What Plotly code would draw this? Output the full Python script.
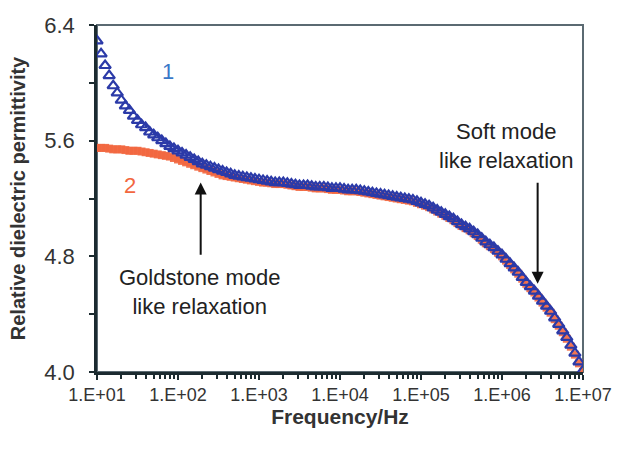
import plotly.graph_objects as go

# log10(frequency / Hz), 20 readings per decade
log_freq = [1.0 + 0.05 * i for i in range(121)]

eps_1 = [6.29, 6.20, 6.12, 6.05, 5.98, 5.93, 5.88, 5.84, 5.81, 5.77,
         5.74, 5.71, 5.69, 5.66, 5.64, 5.62, 5.60, 5.58, 5.56, 5.545,
         5.53, 5.515, 5.50, 5.485, 5.47, 5.455, 5.44, 5.43, 5.42, 5.41,
         5.40, 5.39, 5.38, 5.37, 5.36, 5.355, 5.35, 5.345, 5.34, 5.335,
         5.33, 5.325, 5.32, 5.315, 5.31, 5.31, 5.31, 5.305, 5.30, 5.295,
         5.29, 5.29, 5.29, 5.285, 5.28, 5.28, 5.28, 5.275, 5.27, 5.27,
         5.27, 5.265, 5.26, 5.26, 5.26, 5.255, 5.25, 5.245, 5.24, 5.235,
         5.23, 5.225, 5.22, 5.215, 5.21, 5.205, 5.20, 5.195, 5.19, 5.18,
         5.17, 5.16, 5.15, 5.135, 5.12, 5.105, 5.09, 5.075, 5.06, 5.04,
         5.02, 5.005, 4.99, 4.97, 4.95, 4.925, 4.90, 4.88, 4.86, 4.835,
         4.81, 4.78, 4.75, 4.72, 4.69, 4.655, 4.62, 4.59, 4.56, 4.525,
         4.49, 4.455, 4.42, 4.375, 4.33, 4.285, 4.24, 4.185, 4.13, 4.07,
         4.01]

eps_2 = [5.55, 5.55, 5.55, 5.545, 5.54, 5.54, 5.54, 5.535, 5.53, 5.53,
         5.53, 5.525, 5.52, 5.515, 5.51, 5.505, 5.50, 5.495, 5.49, 5.48,
         5.47, 5.46, 5.45, 5.44, 5.43, 5.42, 5.41, 5.40, 5.39, 5.38,
         5.37, 5.36, 5.355, 5.35, 5.345, 5.34, 5.335, 5.33, 5.325, 5.32,
         5.315, 5.31, 5.31, 5.305, 5.30, 5.30, 5.30, 5.295, 5.29, 5.285,
         5.28, 5.28, 5.28, 5.275, 5.27, 5.27, 5.27, 5.265, 5.26, 5.26,
         5.26, 5.255, 5.25, 5.25, 5.25, 5.245, 5.24, 5.235, 5.23, 5.225,
         5.22, 5.215, 5.21, 5.205, 5.20, 5.195, 5.19, 5.185, 5.18, 5.17,
         5.16, 5.15, 5.14, 5.125, 5.11, 5.095, 5.08, 5.065, 5.05, 5.03,
         5.01, 4.995, 4.98, 4.96, 4.94, 4.915, 4.89, 4.87, 4.85, 4.825,
         4.80, 4.77, 4.74, 4.71, 4.68, 4.645, 4.61, 4.58, 4.55, 4.515,
         4.48, 4.445, 4.41, 4.365, 4.32, 4.275, 4.23, 4.175, 4.12, 4.06,
         4.00]

x_tick_vals = [1e1, 1e2, 1e3, 1e4, 1e5, 1e6, 1e7]
x_tick_text = ["1.E+01", "1.E+02", "1.E+03", "1.E+04", "1.E+05", "1.E+06", "1.E+07"]
y_tick_vals = [4.0, 4.8, 5.6, 6.4]

n = min(len(log_freq), len(eps_1), len(eps_2))
freq = [10 ** v for v in log_freq[:n]]
minor_x = [k * 10 ** e for e in range(1, 7) for k in range(2, 10)]

FONT = "Liberation Sans, Arial, sans-serif"

fig = go.Figure()
fig.add_trace(go.Scatter(
    x=freq, y=eps_2[:n], mode="markers",
    marker=dict(symbol="square", size=8, color="#f2673f", opacity=0.9,
                line=dict(width=0)),
    showlegend=False))
fig.add_trace(go.Scatter(
    x=freq, y=eps_1[:n], mode="markers",
    marker=dict(symbol="triangle-up-open", size=10, color="#2b3aa8",
                line=dict(width=2.2, color="#2b3aa8")),
    showlegend=False))

font_txt = dict(family=FONT, size=22, color="#222222")

fig.update_layout(
    width=618, height=450,
    margin=dict(l=97, r=35, t=25, b=78, autoexpand=False),
    paper_bgcolor="white", plot_bgcolor="white",
    font=dict(family=FONT, color="#333333"),
    xaxis=dict(
        type="log", range=[1, 7.0], automargin=False,
        tickvals=x_tick_vals, ticktext=x_tick_text,
        tickfont=dict(size=18, color="#333333"),
        ticks="outside", ticklen=5, tickwidth=2, tickcolor="#1c2b30",
        minor=dict(tickvals=minor_x, ticks="outside", ticklen=4,
                   tickwidth=1.5, tickcolor="#1c2b30", showgrid=False),
        showline=True, linewidth=2.5, linecolor="#1c2b30",
        showgrid=False, zeroline=False,
        title=dict(text="<b>Frequency/Hz</b>", font=dict(size=21, color="#333333"),
                   standoff=4),
    ),
    yaxis=dict(
        range=[4.0, 6.4], tickvals=y_tick_vals, tickformat=".1f", automargin=False,
        tickfont=dict(size=22, color="#333333"), ticklabelstandoff=10,
        ticks="outside", ticklen=5, tickwidth=2, tickcolor="#1c2b30",
        minor=dict(dtick=0.4, tick0=4.0, ticks="outside", ticklen=5,
                   tickwidth=1.5, tickcolor="#1c2b30", showgrid=False),
        showline=True, linewidth=2.5, linecolor="#1c2b30",
        showgrid=False, zeroline=False,
        title=dict(text="<b>Relative dielectric permittivity</b>",
                   font=dict(size=20, color="#333333"), standoff=14),
    ),
    shapes=[dict(type="rect", xref="paper", yref="paper", x0=0, x1=1, y0=0, y1=1,
                 line=dict(color="#5b6a72", width=2), layer="below")],
)

fig.add_annotation(x=1.88, y=6.075, xref="x", yref="y", text="1", showarrow=False,
                   font=dict(family=FONT, size=22, color="#3a78c8"))
fig.add_annotation(x=1.41, y=5.29, xref="x", yref="y", text="2", showarrow=False,
                   font=dict(family=FONT, size=22, color="#f2673f"))

fig.add_annotation(x=2.28, y=5.31, ax=2.28, ay=4.80, xref="x", yref="y", axref="x", ayref="y",
                   text="", showarrow=True, arrowhead=2, arrowsize=1.2, arrowwidth=2,
                   arrowcolor="#111111")
fig.add_annotation(x=2.26, y=4.55, xref="x", yref="y",
                   text="Goldstone mode<br>like relaxation", showarrow=False,
                   font=font_txt, align="center")

fig.add_annotation(x=6.44, y=4.61, ax=6.44, ay=5.32, xref="x", yref="y", axref="x", ayref="y",
                   text="", showarrow=True, arrowhead=2, arrowsize=1.2, arrowwidth=2,
                   arrowcolor="#111111")
fig.add_annotation(x=6.06, y=5.56, xref="x", yref="y",
                   text="Soft mode<br>like relaxation", showarrow=False,
                   font=font_txt, align="center")

fig.write_html("out.html", config={"displayModeBar": False},
               post_script="document.body.style.margin='0';")
